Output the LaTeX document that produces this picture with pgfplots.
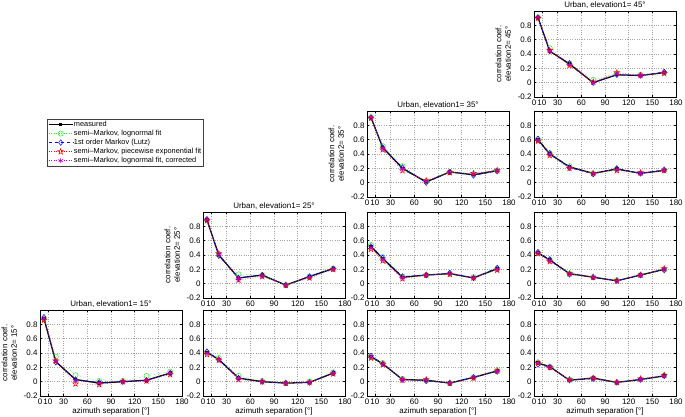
\documentclass[border=0pt]{standalone}
\usepackage{pgfplots}
\pgfplotsset{compat=1.18}
\usepackage{pgfplotstable}
\usepackage{fontspec}
\setmainfont{Liberation Sans}
\usetikzlibrary{plotmarks}

\pgfdeclareplotmark{pentagram}{%
  \pgfpathmoveto{\pgfpointpolar{90}{\pgfplotmarksize}}%
  \pgfpathlineto{\pgfpointpolar{126}{0.40\pgfplotmarksize}}%
  \pgfpathlineto{\pgfpointpolar{162}{\pgfplotmarksize}}%
  \pgfpathlineto{\pgfpointpolar{198}{0.40\pgfplotmarksize}}%
  \pgfpathlineto{\pgfpointpolar{234}{\pgfplotmarksize}}%
  \pgfpathlineto{\pgfpointpolar{270}{0.40\pgfplotmarksize}}%
  \pgfpathlineto{\pgfpointpolar{306}{\pgfplotmarksize}}%
  \pgfpathlineto{\pgfpointpolar{342}{0.40\pgfplotmarksize}}%
  \pgfpathlineto{\pgfpointpolar{18}{\pgfplotmarksize}}%
  \pgfpathlineto{\pgfpointpolar{54}{0.40\pgfplotmarksize}}%
  \pgfpathclose\pgfusepathqstroke}

\definecolor{mgreen}{rgb}{0.2,0.9,0.2}
\definecolor{mblue}{rgb}{0,0,1}
\definecolor{mred}{rgb}{1,0,0}
\definecolor{mmag}{rgb}{0.8,0,0.8}

\pgfplotsset{
  panel/.style={scale only axis, width=142bp, height=86bp,
    xmin=0, xmax=180, ymin=-0.2, ymax=1,
    xtick={0,10,30,60,90,120,150,180}, ytick={-0.2,0,0.2,0.4,0.6,0.8},
    grid=major, major grid style={dotted, gray!70, line width=0.4pt},
    tick align=inside, major tick length=2bp,
    tick style={black, line width=0.4pt},
    axis line style={line width=0.5pt},
    ticklabel style={font=\fontsize{8}{9}\selectfont},
    /pgf/number format/assume math mode=true,
    xticklabel style={yshift=1bp},
    yticklabel style={xshift=1bp},
    title style={font=\fontsize{8}{9}\selectfont, yshift=-7bp},
    label style={font=\fontsize{8}{9.5}\selectfont},
    ylabel style={align=center},
    xlabel style={yshift=3bp},
  },
  sm/.style={black, line width=1.3pt, mark=square*, mark size=1pt},
  sg/.style={mgreen, dotted, line width=0.5pt, mark=o, mark size=2.6pt, mark options={solid}},
  sb/.style={mblue, dashed, line width=0.5pt, mark=diamond, mark size=2.8pt, mark options={solid}},
  sr/.style={mred, dotted, line width=0.5pt, mark=pentagram, mark size=3pt, mark options={solid}},
  sp/.style={mmag, dotted, line width=0.5pt, mark=asterisk, mark size=2.5pt, mark options={solid}},
}

\newcommand{\fiveplots}[1]{%
  \addplot[sm] table[x=a,y=m]{#1};
  \addplot[sg] table[x=a,y=g]{#1};
  \addplot[sb] table[x=a,y=b]{#1};
  \addplot[sr] table[x=a,y=r]{#1};
  \addplot[sp] table[x=a,y=p]{#1};
}

% row1 col4: elev1=45, elev2=45
\pgfplotstableread{
a m g b r p
5 0.91 0.91 0.91 0.90 0.91
20 0.44 0.48 0.44 0.45 0.44
45 0.26 0.27 0.27 0.24 0.25
75 0.00 0.04 0.00 0.01 0.00
105 0.11 0.12 0.11 0.14 0.12
135 0.10 0.11 0.10 0.10 0.10
165 0.14 0.14 0.15 0.13 0.14
}\PA
% row2 col3: 35/35
\pgfplotstableread{
a m g b r p
5 0.91 0.91 0.91 0.90 0.91
20 0.49 0.51 0.49 0.46 0.48
45 0.20 0.23 0.21 0.17 0.19
75 0.01 0.02 0.00 0.03 0.02
105 0.15 0.15 0.15 0.14 0.15
135 0.11 0.12 0.10 0.13 0.12
165 0.17 0.17 0.16 0.17 0.17
}\PB
% row2 col4: 45/35
\pgfplotstableread{
a m g b r p
5 0.60 0.61 0.61 0.58 0.59
20 0.40 0.41 0.41 0.38 0.40
45 0.22 0.23 0.21 0.20 0.21
75 0.13 0.13 0.12 0.13 0.13
105 0.19 0.19 0.20 0.17 0.18
135 0.13 0.13 0.13 0.14 0.13
165 0.17 0.17 0.18 0.17 0.17
}\PC
% row3 col2: 25/25
\pgfplotstableread{
a m g b r p
5 0.89 0.89 0.90 0.88 0.89
20 0.40 0.41 0.39 0.42 0.41
45 0.08 0.13 0.08 0.05 0.07
75 0.12 0.12 0.12 0.10 0.11
105 -0.02 -0.02 -0.02 -0.02 -0.02
135 0.10 0.10 0.10 0.08 0.09
165 0.21 0.21 0.21 0.20 0.20
}\PD
% row3 col3: 35/25
\pgfplotstableread{
a m g b r p
5 0.52 0.54 0.52 0.48 0.50
20 0.35 0.37 0.36 0.32 0.34
45 0.09 0.10 0.10 0.07 0.08
75 0.12 0.12 0.12 0.12 0.12
105 0.14 0.14 0.15 0.13 0.14
135 0.08 0.09 0.08 0.08 0.08
165 0.21 0.21 0.22 0.19 0.20
}\PE
% row3 col4: 45/25
\pgfplotstableread{
a m g b r p
5 0.43 0.43 0.44 0.42 0.43
20 0.33 0.33 0.34 0.31 0.32
45 0.14 0.14 0.13 0.14 0.14
75 0.09 0.09 0.09 0.09 0.09
105 0.04 0.05 0.04 0.04 0.04
135 0.12 0.12 0.12 0.12 0.12
165 0.20 0.20 0.19 0.21 0.20
}\PF
% row4 col1: 15/15
\pgfplotstableread{
a m g b r p
5 0.88 0.88 0.90 0.86 0.88
20 0.28 0.35 0.27 0.29 0.29
45 0.03 0.09 0.03 -0.03 0.02
75 -0.02 0.01 -0.01 -0.04 -0.02
105 0.00 0.01 0.00 0.00 0.00
135 0.02 0.08 0.02 0.01 0.02
165 0.12 0.14 0.12 0.10 0.12
}\PG
% row4 col2: 25/15
\pgfplotstableread{
a m g b r p
5 0.41 0.41 0.42 0.38 0.40
20 0.31 0.33 0.31 0.30 0.31
45 0.05 0.08 0.05 0.03 0.05
75 0.00 0.01 0.00 0.00 0.00
105 -0.02 -0.02 -0.02 -0.02 -0.02
135 -0.01 0.00 -0.01 -0.01 -0.01
165 0.12 0.13 0.12 0.11 0.12
}\PH
% row4 col3: 35/15
\pgfplotstableread{
a m g b r p
5 0.35 0.36 0.36 0.33 0.35
20 0.25 0.26 0.25 0.24 0.25
45 0.03 0.04 0.03 0.02 0.03
75 0.02 0.02 0.01 0.03 0.02
105 -0.02 -0.02 -0.02 -0.02 -0.02
135 0.06 0.06 0.06 0.05 0.06
165 0.15 0.16 0.14 0.15 0.15
}\PI
% row4 col4: 45/15
\pgfplotstableread{
a m g b r p
5 0.26 0.27 0.24 0.26 0.26
20 0.21 0.21 0.20 0.20 0.21
45 0.02 0.03 0.02 0.03 0.02
75 0.05 0.05 0.04 0.05 0.05
105 -0.01 -0.01 -0.01 -0.01 -0.01
135 0.03 0.03 0.03 0.04 0.03
165 0.08 0.09 0.08 0.09 0.08
}\PJ

\begin{document}
\begin{tikzpicture}
\useasboundingbox (0,0) rectangle (685bp,417bp);

% row 1
\begin{axis}[panel, at={(534bp,320bp)}, title={Urban, elevation1= 45°},
  ylabel={correlation coef.\\elevation2= 45°}]
\fiveplots{\PA}
\end{axis}

% row 2
\begin{axis}[panel, at={(367bp,220bp)}, title={Urban, elevation1= 35°},
  ylabel={correlation coef.\\elevation2= 35°}]
\fiveplots{\PB}
\end{axis}
\begin{axis}[panel, at={(534bp,220bp)}]
\fiveplots{\PC}
\end{axis}

% row 3
\begin{axis}[panel, at={(203bp,119bp)}, title={Urban, elevation1= 25°},
  ylabel={correlation coef.\\elevation2= 25°}]
\fiveplots{\PD}
\end{axis}
\begin{axis}[panel, at={(367bp,119bp)}]
\fiveplots{\PE}
\end{axis}
\begin{axis}[panel, at={(534bp,119bp)}]
\fiveplots{\PF}
\end{axis}

% row 4
\begin{axis}[panel, at={(40bp,21bp)}, title={Urban, elevation1= 15°},
  ylabel={correlation coef.\\elevation2= 15°}, xlabel={azimuth separation [°]},
  legend entries={measured, {semi--Markov, lognormal fit}, {1st order Markov (Lutz)},
    {semi--Markov, piecewise exponential fit}, {semi--Markov, lognormal fit, corrected}},
  legend cell align=left,
  legend style={at={(1.15,3.22)}, anchor=north east, draw=black!75, line width=0.5pt,
    font=\fontsize{7.4}{8.2}\selectfont, inner sep=1.2pt, row sep=1pt,
    nodes={inner sep=0.6pt}},
  legend image code/.code={\draw[mark repeat=2,mark phase=2,#1] plot coordinates {(0bp,0bp) (12bp,0bp) (24bp,0bp)};}]
\fiveplots{\PG}
\end{axis}
\begin{axis}[panel, at={(203bp,21bp)}, xlabel={azimuth separation [°]}]
\fiveplots{\PH}
\end{axis}
\begin{axis}[panel, at={(367bp,21bp)}, xlabel={azimuth separation [°]}]
\fiveplots{\PI}
\end{axis}
\begin{axis}[panel, at={(534bp,21bp)}, xlabel={azimuth separation [°]}]
\fiveplots{\PJ}
\end{axis}
\end{tikzpicture}
\end{document}
